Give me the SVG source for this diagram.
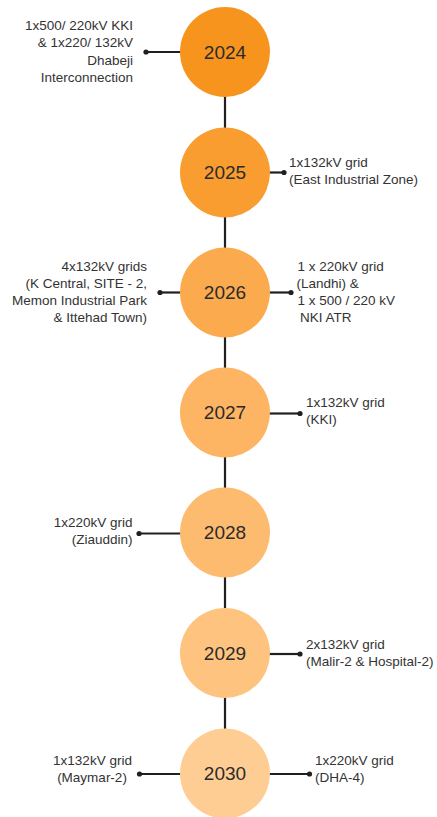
<svg xmlns="http://www.w3.org/2000/svg" width="437" height="817" viewBox="0 0 437 817">
<style>
.lbl{font-family:"Liberation Sans",Arial,sans-serif;font-size:13.5px;fill:#333333}
.r{text-anchor:end}
.m{text-anchor:middle}
.yr{font-family:"Liberation Sans",Arial,sans-serif;font-size:19px;fill:#2b2b2b;text-anchor:middle}
.ln{stroke:#231f20;stroke-width:2.2;fill:none}
.dot{fill:#231f20}
</style>
<rect width="437" height="817" fill="#ffffff"/>
<g id="connectors">
<line class="ln" x1="225" y1="90" x2="225" y2="740"/>
<line class="ln" x1="146" y1="52" x2="182" y2="52"/><circle class="dot" cx="146" cy="52" r="2.6"/>
<line class="ln" x1="268" y1="172.5" x2="284" y2="172.5"/><circle class="dot" cx="284" cy="172.5" r="2.6"/>
<line class="ln" x1="160" y1="292.5" x2="182" y2="292.5"/><circle class="dot" cx="160" cy="292.5" r="2.6"/>
<line class="ln" x1="268" y1="292.5" x2="291" y2="292.5"/><circle class="dot" cx="291" cy="292.5" r="2.6"/>
<line class="ln" x1="268" y1="413.5" x2="300" y2="413.5"/><circle class="dot" cx="300" cy="413.5" r="2.6"/>
<line class="ln" x1="139" y1="533.5" x2="182" y2="533.5"/><circle class="dot" cx="139" cy="533.5" r="2.6"/>
<line class="ln" x1="268" y1="654" x2="300" y2="654"/><circle class="dot" cx="300" cy="654" r="2.6"/>
<line class="ln" x1="139.5" y1="774" x2="182" y2="774"/><circle class="dot" cx="139.5" cy="774" r="2.6"/>
<line class="ln" x1="268" y1="774" x2="309.5" y2="774"/><circle class="dot" cx="309.5" cy="774" r="2.6"/>
</g>
<g id="y2024">
<circle cx="225" cy="52" r="45" fill="#f7941e"/>
<text class="yr" x="225" y="58.5">2024</text>
<text class="lbl r" x="133" y="30">1x500/ 220kV KKI</text>
<text class="lbl r" x="133" y="47.3">&amp; 1x220/ 132kV</text>
<text class="lbl r" x="133" y="64.5">Dhabeji</text>
<text class="lbl r" x="133" y="81.7">Interconnection</text>
</g>
<g id="y2025">
<circle cx="225" cy="172.5" r="45" fill="#f99d31"/>
<text class="yr" x="225" y="179">2025</text>
<text class="lbl" x="289" y="167">1x132kV grid</text>
<text class="lbl" x="289" y="184.3">(East Industrial Zone)</text>
</g>
<g id="y2026">
<circle cx="225" cy="292.5" r="45" fill="#fbaa4e"/>
<text class="yr" x="225" y="299">2026</text>
<text class="lbl r" x="147" y="270.7">4x132kV grids</text>
<text class="lbl r" x="147" y="288">(K Central, SITE - 2,</text>
<text class="lbl r" x="147" y="305.2">Memon Industrial Park</text>
<text class="lbl r" x="147" y="322.4">&amp; Ittehad Town)</text>
<text class="lbl" x="297.5" y="270.7">1 x 220kV grid</text>
<text class="lbl" x="296.5" y="288">(Landhi) &amp;</text>
<text class="lbl" x="297.5" y="305.2">1 x 500 / 220 kV</text>
<text class="lbl" x="300" y="322.4">NKI ATR</text>
</g>
<g id="y2027">
<circle cx="225" cy="412.5" r="45" fill="#fdb463"/>
<text class="yr" x="225" y="419">2027</text>
<text class="lbl" x="306" y="407">1x132kV grid</text>
<text class="lbl" x="306" y="424.2">(KKI)</text>
</g>
<g id="y2028">
<circle cx="225" cy="532.5" r="45" fill="#fdbb70"/>
<text class="yr" x="225" y="539">2028</text>
<text class="lbl r" x="132.5" y="527">1x220kV grid</text>
<text class="lbl r" x="132.5" y="544.2">(Ziauddin)</text>
</g>
<g id="y2029">
<circle cx="225" cy="653" r="45" fill="#fec47f"/>
<text class="yr" x="225" y="659.5">2029</text>
<text class="lbl" x="306" y="648.5">2x132kV grid</text>
<text class="lbl" x="306" y="665.7">(Malir-2 &amp; Hospital-2)</text>
</g>
<g id="y2030">
<circle cx="225" cy="773.5" r="45" fill="#fecd94"/>
<text class="yr" x="225" y="780">2030</text>
<text class="lbl m" x="92.5" y="764.7">1x132kV grid</text>
<text class="lbl m" x="92" y="782">(Maymar-2)</text>
<text class="lbl" x="315" y="764.7">1x220kV grid</text>
<text class="lbl" x="315" y="782">(DHA-4)</text>
</g>
</svg>
